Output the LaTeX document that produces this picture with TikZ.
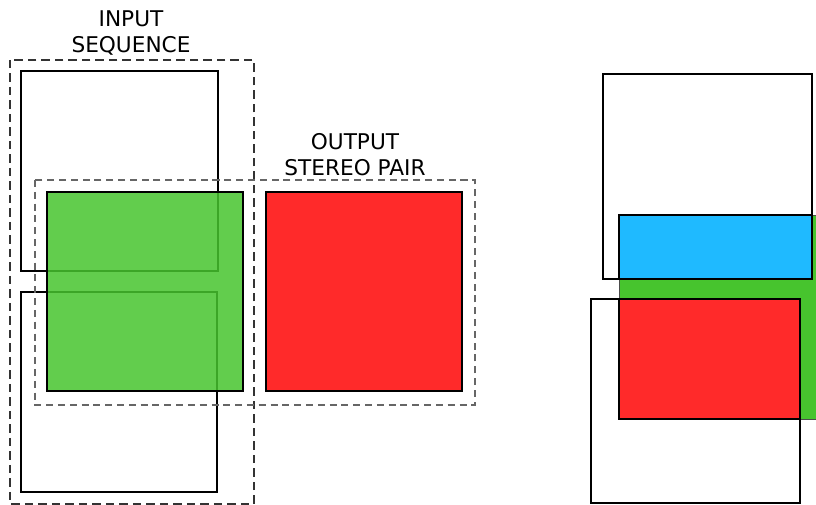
\documentclass[tikz,border=0pt]{standalone}
\usepackage{fontspec}
\setmainfont{DejaVu Sans}
\definecolor{viewred}{HTML}{FF2A2A}
\definecolor{viewgreen}{HTML}{47C42E}
\definecolor{viewblue}{HTML}{1FBAFF}
\begin{document}
\begin{tikzpicture}[
                    font=\fontsize{15.4}{18.8}\selectfont,
                    group/.style={draw=black!80, line width=0.75pt, dash pattern=on 6pt off 3.6pt},
                    pairgroup/.style={draw=black!60, line width=0.75pt, dash pattern=on 5pt off 3.4pt},
                    frame/.style={draw=black, line width=1.3pt},
                    label/.style={align=center, inner sep=0pt},
                    leftview/.style={fill=viewgreen, fill opacity=0.85, draw=black, line width=1.3pt},
                    rightview/.style={fill=viewred, draw=black, line width=1.3pt},
                    overlap/.style={draw=black, line width=1.6pt}
                ]
                \useasboundingbox (0,0) rectangle (20.4,-12.625);
                \clip (0,0) rectangle (20.4,-12.625);

                % Input sequence
                \draw[group] (0.25,-1.5) rectangle (6.35,-12.6);
                \node[label] (inlabel) at (3.275,-0.82) {INPUT\\SEQUENCE};

                % frames
                \draw[frame] (0.525,-1.775) rectangle (5.45,-6.775);
                \draw[frame] (0.525,-7.3) rectangle (5.425,-12.3);

                % Output stereo pair
                \draw[leftview] (1.175,-4.8) rectangle (6.075,-9.775);
                \draw[rightview] (6.65,-4.8) rectangle (11.55,-9.775);
                \draw[pairgroup] (0.875,-4.5) rectangle (11.875,-10.125);
                \node[label] (outlabel) at (8.875,-3.87) {OUTPUT\\STEREO PAIR};

                % view on the right
                \fill[viewgreen] (15.475,-5.375) rectangle (20.75,-10.475);
                \draw[black!70, line width=0.6pt] (20.75,-5.375) -- (15.475,-5.375) -- (15.475,-10.475) -- (20.75,-10.475);
                \draw[frame] (15.075,-1.85) rectangle (20.3,-6.975);
                \draw[frame] (14.775,-7.475) rectangle (20.0,-12.575);

                % overlaps
                \draw[overlap, fill=viewblue] (15.475,-5.375) rectangle (20.3,-6.975);
                \draw[overlap, fill=viewred] (15.475,-7.475) rectangle (20.0,-10.475);

            \end{tikzpicture}
\end{document}
